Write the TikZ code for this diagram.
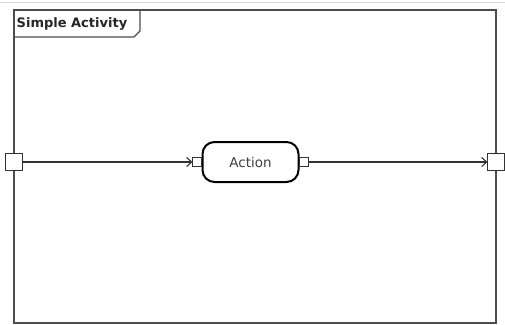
\documentclass[tikz,border=0pt]{standalone}
\usepackage{fontspec}
\setmainfont{DejaVu Sans}
\usetikzlibrary{arrows.meta}
\definecolor{frm}{gray}{0.3}
\tikzset{
  frameline/.style={draw=frm, line width=1.8pt},
  pin/.style={draw=black!80, fill=white, line width=1.1pt, minimum size=#1, inner sep=0pt, outer sep=0pt},
  flow/.style={draw=black!80, line width=1.1pt, -{Straight Barb[length=5pt,width=9pt]}},
}
\begin{document}
\begin{tikzpicture}[x=1pt,y=-1pt]
\useasboundingbox (0,0) rectangle (505,324);
\fill[white] (0,0) rectangle (505,324);
\draw[gray!30, line width=0.8pt] (0,2.5) -- (505,2.5);
% frame
\draw[frameline] (14,10) rectangle (496,323);
% title tab
\draw[frameline, line width=1.2pt] (14,37) -- (134,37) -- (140,31) -- (140,10);
\node[anchor=west, font=\bfseries\fontsize{13}{15}\selectfont, text=black!85, inner sep=0pt] (title) at (16.5,23.5) {Simple Activity};
% parameter pins
\node[pin=17pt] (pin1) at (14,162) {};
\node[pin=17pt] (pin2) at (496,162) {};
% action
\node[draw=black, line width=2pt, rounded corners=12pt, minimum width=96pt, minimum height=40pt, inner sep=0pt, font=\fontsize{13.5}{15}\selectfont, text=black!75] (act) at (250.5,162) {Action};
\node[pin=9pt, anchor=east] (inpin) at (act.west) {};
\node[pin=9pt, anchor=west] (outpin) at (act.east) {};
% flows
\draw[flow] (pin1.east) -- (inpin.west);
\draw[flow] (outpin.east) -- (pin2.west);
\end{tikzpicture}
\end{document}
